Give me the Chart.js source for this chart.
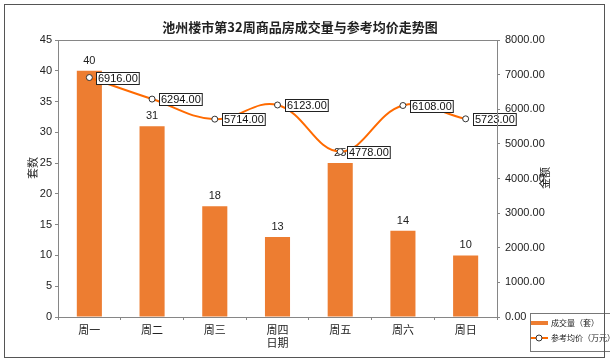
<!DOCTYPE html>
<html>
<head>
<meta charset="utf-8">
<script src="https://cdn.jsdelivr.net/npm/chart.js@4"></script>
<style>
  body { margin: 0; background: #fff; }
  #wrap { width: 610px; height: 364px; }
</style>
</head>
<body>
<div id="wrap"><canvas id="chart" width="610" height="364"></canvas></div>
<script>
const days = ['周一', '周二', '周三', '周四', '周五', '周六', '周日'];
const volume = [40, 31, 18, 13, 25, 14, 10];
const avgPrice = [6916, 6294, 5714, 6123, 4778, 6108, 5723];

const FONT = "'Liberation Sans', 'Noto Sans CJK SC', sans-serif";
const barColor = '#ED7D31';
const lineColor = '#FF6A00';
const axisColor = '#868686';

// draws title, axis titles, value labels, legend and frames
const decor = {
    id: 'decor',
    beforeDatasetsDraw(chart) {
        const ctx = chart.ctx;
        const meta = chart.getDatasetMeta(0);
        ctx.save();
        ctx.font = '11px ' + FONT;
        ctx.fillStyle = '#222';
        ctx.textAlign = 'center';
        ctx.textBaseline = 'middle';
        meta.data.forEach((bar, i) => {
            ctx.fillText(String(volume[i]), bar.x, bar.y - 10);
        });
        ctx.restore();
    },
    afterDatasetsDraw(chart) {
        const ctx = chart.ctx;
        const meta = chart.getDatasetMeta(1);
        ctx.save();
        ctx.font = '11px ' + FONT;
        ctx.textBaseline = 'middle';
        ctx.textAlign = 'left';
        meta.data.forEach((pt, i) => {
            const txt = avgPrice[i].toFixed(2);
            const tw = ctx.measureText(txt).width;
            const x0 = Math.round(pt.x + 7) + 0.5;
            const y0 = Math.round(pt.y - 6) + 0.5;
            ctx.fillStyle = '#fff';
            ctx.fillRect(x0, y0, tw + 3, 12);
            ctx.strokeStyle = '#222';
            ctx.lineWidth = 1;
            ctx.strokeRect(x0, y0, tw + 3, 12);
            ctx.fillStyle = '#111';
            ctx.fillText(txt, x0 + 1.5, y0 + 6.5);
        });
        ctx.restore();
    },
    afterDraw(chart) {
        const ctx = chart.ctx;
        const a = chart.chartArea;
        ctx.save();
        // plot frame
        ctx.strokeStyle = axisColor;
        ctx.lineWidth = 1;
        ctx.strokeRect(Math.round(a.left) + 0.5, Math.round(a.top) + 0.5,
            Math.round(a.right - a.left), Math.round(a.bottom - a.top));

        // title
        ctx.fillStyle = '#222';
        ctx.font = "bold 13px 'Noto Sans CJK SC', sans-serif";
        ctx.textAlign = 'center';
        ctx.textBaseline = 'middle';
        ctx.fillText('池州楼市第32周商品房成交量与参考均价走势图', 300, 27);

        // axis titles
        ctx.font = "11px 'Noto Sans CJK SC', sans-serif";
        ctx.fillText('日期', (a.left + a.right) / 2, 343);
        ctx.save();
        ctx.translate(33, 168);
        ctx.rotate(-Math.PI / 2);
        ctx.fillText('套数', 0, 0);
        ctx.restore();
        ctx.save();
        ctx.translate(545, 178);
        ctx.rotate(-Math.PI / 2);
        ctx.fillText('金额', 0, 0);
        ctx.restore();

        // legend
        ctx.strokeStyle = '#777';
        ctx.strokeRect(530.5, 313.5, 80, 38);
        ctx.fillStyle = barColor;
        ctx.fillRect(531, 321, 17, 4);
        ctx.strokeStyle = lineColor;
        ctx.lineWidth = 2;
        ctx.beginPath();
        ctx.moveTo(531, 338);
        ctx.lineTo(548, 338);
        ctx.stroke();
        ctx.beginPath();
        ctx.arc(539, 338, 3, 0, Math.PI * 2);
        ctx.fillStyle = '#fff';
        ctx.fill();
        ctx.lineWidth = 1;
        ctx.strokeStyle = '#333';
        ctx.stroke();
        ctx.fillStyle = '#222';
        ctx.font = "8px 'Noto Sans CJK SC', sans-serif";
        ctx.textAlign = 'left';
        ctx.fillText('成交量（套）', 551, 323);
        ctx.fillText('参考均价（万元）', 551, 338);

        // outer border
        ctx.strokeStyle = '#555';
        ctx.lineWidth = 1;
        ctx.strokeRect(4.5, 4.5, 600, 353);
        ctx.restore();
    }
};

new Chart(document.getElementById('chart'), {
    type: 'bar',
    data: {
        labels: days,
        datasets: [{
            label: '成交量（套）',
            data: volume,
            backgroundColor: barColor,
            barPercentage: 0.4,
            categoryPercentage: 1,
            yAxisID: 'y',
            order: 1
        }, {
            type: 'line',
            label: '参考均价（万元）',
            data: avgPrice,
            borderColor: lineColor,
            borderWidth: 2,
            tension: 0.4,
            pointRadius: 3,
            pointBackgroundColor: '#fff',
            pointBorderColor: '#333',
            pointBorderWidth: 1,
            yAxisID: 'y1',
            order: 0
        }]
    },
    options: {
        responsive: false,
        animation: false,
        layout: { padding: { left: 20, top: 40, right: 0, bottom: 0 } },
        plugins: {
            legend: { display: false },
            title: { display: false },
            tooltip: { enabled: false }
        },
        scales: {
            x: {
                afterFit: s => { s.height = 47; },
                grid: { drawOnChartArea: false, tickLength: 3, color: axisColor },
                border: { color: axisColor },
                ticks: { font: { size: 11, family: FONT }, color: '#222', padding: 4 }
            },
            y: {
                position: 'left',
                min: 0, max: 45,
                afterFit: s => { s.width = 38; },
                grid: { drawOnChartArea: false, tickLength: 3, color: axisColor },
                border: { color: axisColor },
                ticks: { stepSize: 5, font: { size: 11, family: FONT }, color: '#222', padding: 3 }
            },
            y1: {
                position: 'right',
                min: 0, max: 8000,
                afterFit: s => { s.width = 113; },
                grid: { drawOnChartArea: false, tickLength: 3, color: axisColor },
                border: { color: axisColor },
                ticks: {
                    stepSize: 1000,
                    font: { size: 11, family: FONT }, color: '#222', padding: 5,
                    callback: v => v.toFixed(2)
                }
            }
        }
    },
    plugins: [decor]
});
</script>
</body>
</html>
